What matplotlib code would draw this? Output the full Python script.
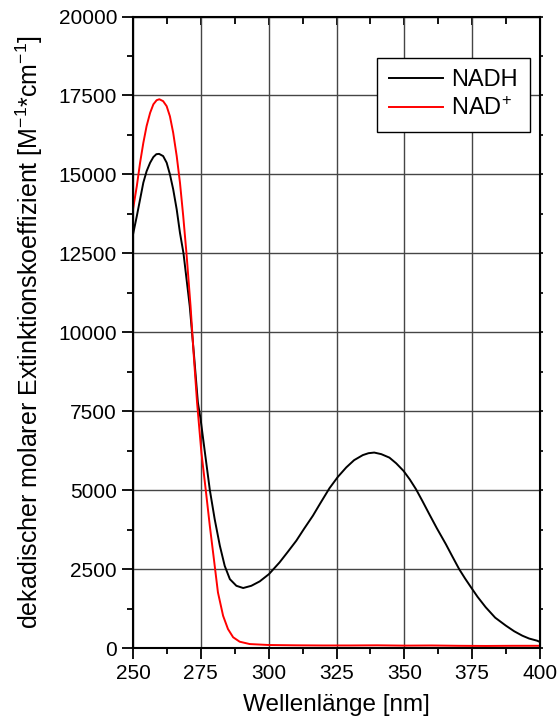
import matplotlib
matplotlib.use('Agg')
import matplotlib.pyplot as plt
from matplotlib.ticker import MultipleLocator

plt.rcParams['font.family'] = ['Liberation Sans', 'DejaVu Sans']
plt.rcParams['mathtext.default'] = 'regular'

# NADH absorption spectrum (wavelength in nm, extinction in M^-1 cm^-1)
nadh_wl = [250, 251.4, 252.6, 253.8, 255, 256.3, 257.5, 258.6, 259.6, 261.1,
           262.4, 263.6, 264.8, 266.1, 267.3, 268.6, 270.9, 272.5, 273.9,
           274.9, 276.5, 278.3, 280.1, 282, 283.8, 285.7, 288.1, 290.6, 293.6,
           296.7, 300.1, 304, 307, 310.2, 313, 316.3, 319, 322.4, 325.5, 328.6,
           331.5, 334.7, 336.8, 338.9, 341.5, 344.5, 347, 349.7, 352, 354.3,
           356.7, 359.2, 362, 365.3, 367.7, 370.2, 372.4, 374.6, 377, 380,
           383.5, 387.4, 390.5, 393.5, 396, 399, 400]
nadh_eps = [13100, 13680, 14210, 14740, 15100, 15370, 15550, 15640, 15650, 15580,
            15370, 15000, 14530, 13890, 13150, 12500, 10830, 9250, 7780,
            7250, 6190, 5010, 4080, 3240, 2600, 2180, 1970, 1900, 1970,
            2110, 2340, 2710, 3040, 3400, 3770, 4190, 4580, 5060, 5420, 5720,
            5950, 6110, 6170, 6190, 6140, 6030, 5850, 5610, 5340, 5030,
            4650, 4240, 3790, 3290, 2900, 2500, 2200, 1920, 1620, 1290,
            960, 710, 530, 390, 300, 230, 190]

# NAD+ absorption spectrum
nad_wl = [250, 251.4, 252.6, 253.8, 255, 256.3, 257.5, 258.7, 259.7, 261.1,
          262.4, 263.6, 264.8, 266.1, 267.3, 268.5, 269.7, 271.2, 272.4, 273.6,
          275.2, 276.8, 278.3, 279.8, 281.3, 283.2, 285, 286.9, 289.3, 293,
          300, 310, 320, 330, 340, 350, 360, 370, 380, 390, 400]
nad_eps = [13900, 14630, 15370, 16000, 16530, 16950, 17220, 17350, 17380, 17320,
           17160, 16840, 16320, 15580, 14740, 13680, 12500, 10830, 9250, 7780,
           6190, 5010, 3870, 2820, 1760, 1020, 600, 340, 200, 125,
           95, 85, 80, 80, 85, 75, 80, 70, 65, 70, 70]

fig = plt.figure(figsize=(5.58, 7.25), dpi=100)
ax = fig.add_axes([0.2384, 0.1062, 0.7293, 0.8710])

ax.plot(nadh_wl, nadh_eps, color='black', lw=1.4, label='NADH')
ax.plot(nad_wl, nad_eps, color='red', lw=1.4, label='NAD$^{+}$')

ax.set_xlim(250, 400)
ax.set_ylim(0, 20000)
ax.xaxis.set_major_locator(MultipleLocator(25))
ax.xaxis.set_minor_locator(MultipleLocator(12.5))
ax.yaxis.set_major_locator(MultipleLocator(2500))
ax.yaxis.set_minor_locator(MultipleLocator(1250))
ax.grid(True, which='major', color='#454545', lw=1.0)
ax.set_axisbelow(True)

ax.tick_params(which='major', direction='out', length=8, width=1.3, labelsize=15)
ax.tick_params(which='minor', direction='out', length=4, width=1.3)
for side in ax.spines.values():
    side.set_linewidth(1.5)

# extra ticks: inward on top, short outward on the right
top = ax.secondary_xaxis('top')
top.xaxis.set_major_locator(MultipleLocator(25))
top.xaxis.set_minor_locator(MultipleLocator(12.5))
top.tick_params(which='both', direction='in', labeltop=False, width=1.3)
top.tick_params(which='major', length=6)
top.tick_params(which='minor', length=5)
right = ax.secondary_yaxis('right')
right.yaxis.set_major_locator(MultipleLocator(2500))
right.yaxis.set_minor_locator(MultipleLocator(1250))
right.tick_params(which='both', direction='out', labelright=False, width=1.2, length=2)

ax.set_xlabel('Wellenlänge [nm]', fontsize=17.5, labelpad=8)
ax.set_ylabel('dekadischer molarer Extinktionskoeffizient [M$^{-1}$*cm$^{-1}$]',
              fontsize=18, labelpad=10)

leg = ax.legend(loc='upper right', bbox_to_anchor=(0.975, 0.935), fontsize=17,
                fancybox=False, framealpha=1, edgecolor='black', handlelength=2.3,
                handletextpad=0.35, borderpad=0.5, labelspacing=0.25,
                borderaxespad=0)
leg.get_frame().set_linewidth(1.0)

fig.savefig('out.png', dpi=100)
